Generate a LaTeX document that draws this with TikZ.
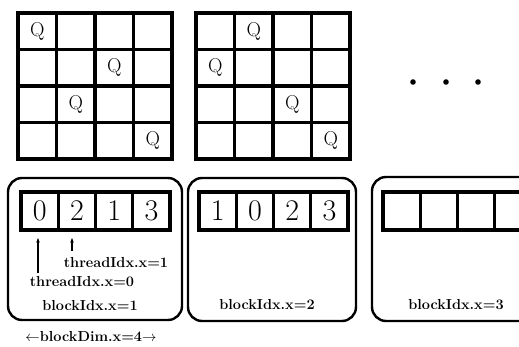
\documentclass[tikz,border=0pt]{standalone}
\usepackage{tikz}
\usetikzlibrary{arrows.meta}

\begin{document}
\begin{tikzpicture}[x=1pt,y=-1pt,>={Stealth[length=4.5pt,width=3.5pt]}]
  \tikzset{
    boardline/.style={line width=3.2pt,line cap=rect},
    blockbox/.style={line width=2.4pt,rounded corners=14pt},
    queen/.style={font=\fontsize{20}{20}\selectfont},
    cellnum/.style={font=\fontsize{30}{30}\selectfont},
    idxtext/.style={font=\fontsize{14.5}{16}\selectfont\bfseries,inner sep=1pt}
  }
  \useasboundingbox (0,0) rectangle (519,347);
  % two chess boards
  \foreach \bx in {18,196} {
    \foreach \i in {0,...,4} {
      \draw[boardline] (\bx+38.5*\i,13) -- (\bx+38.5*\i,159);
      \draw[boardline] (\bx,13+36.5*\i) -- (\bx+154,13+36.5*\i);
    }
  }
  \foreach \c/\r [count=\k] in {0/0,2/1,1/2,3/3}
    \node[queen] (qa\k) at (18+38.5*\c+19.25,13+36.5*\r+18.25) {Q};
  \foreach \c/\r [count=\k] in {1/0,0/1,2/2,3/3}
    \node[queen] (qb\k) at (196+38.5*\c+19.25,13+36.5*\r+18.25) {Q};
  % more boards follow
  \foreach \dx in {413,446,478}
    \fill (\dx,82) circle (2.8);
  % blocks
  \draw[blockbox] (8,178) rectangle (182,320);
  \draw[blockbox] (188,178) rectangle (356,321);
  \draw[blockbox] (372,177) rectangle (550,321);
  \foreach \ax in {21,199,383} {
    \foreach \i in {0,...,4}
      \draw[boardline] (\ax+37.25*\i,192) -- (\ax+37.25*\i,230);
    \draw[boardline] (\ax,192) -- (\ax+149,192);
    \draw[boardline] (\ax,230) -- (\ax+149,230);
  }
  \foreach \v [count=\k] in {0,2,1,3}
    \node[cellnum] (na\k) at (21+37.25*\k-18.6,211) {\v};
  \foreach \v [count=\k] in {1,0,2,3}
    \node[cellnum] (nb\k) at (199+37.25*\k-18.6,211) {\v};
  % thread labels
  \node[idxtext] (tid1) at (116,263) {threadIdx.x=1};
  \node[idxtext] (tid0) at (82,282) {threadIdx.x=0};
  \coordinate (tail0) at (38,273);
  \coordinate (head0) at (38,238);
  \coordinate (tail1) at (72,251);
  \coordinate (head1) at (72,238);
  \draw[->,line width=1.2pt] (tail0) -- (head0);
  \draw[->,line width=1.2pt] (tail1) -- (head1);
  \node[idxtext] (bid1) at (90,306) {blockIdx.x=1};
  \node[idxtext] (bid2) at (267,305) {blockIdx.x=2};
  \node[idxtext] (bid3) at (456,305) {blockIdx.x=3};
  \node[idxtext] (bdim) at (91,337) {$\leftarrow$blockDim.x=4$\rightarrow$};
\end{tikzpicture}
\end{document}
